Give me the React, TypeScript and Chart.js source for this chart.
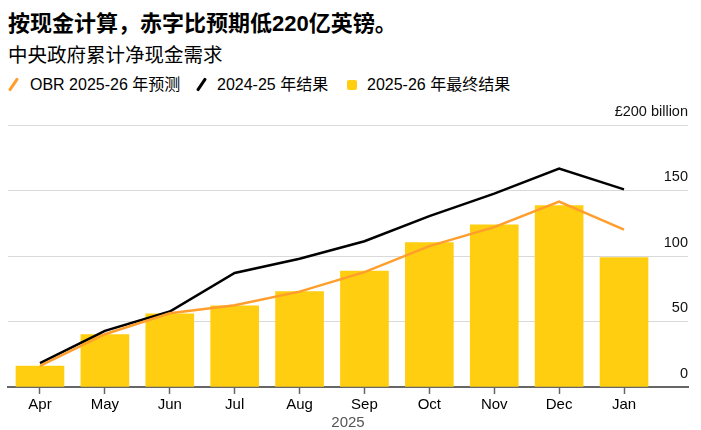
import React, { useEffect, useRef } from 'react';
import { Chart, registerables } from 'chart.js';

Chart.register(...registerables);

const months = ['Apr', 'May', 'Jun', 'Jul', 'Aug', 'Sep', 'Oct', 'Nov', 'Dec', 'Jan'];
const final2526 = [16.0, 40.1, 55.8, 61.9, 72.8, 88.5, 110.3, 123.8, 138.5, 98.7];
const result2425 = [18.3, 42.9, 57.6, 87.0, 97.9, 111.3, 130.4, 147.6, 166.7, 150.9];
const obrForecast = [16.2, 40.3, 56.3, 62.4, 72.8, 87.7, 107.5, 122.0, 141.5, 120.2];
const yTickValues = [0, 50, 100, 150, 200];
const yTopLabel = '£200 billion';
const yearLabel = '2025';

const titleText = '按现金计算，赤字比预期低220亿英镑。';
const subtitleText = '中央政府累计净现金需求';
const legendObr = 'OBR 2025-26 年预测';
const legendPrev = '2024-25 年结果';
const legendFinal = '2025-26 年最终结果';

const BAR = '#FFCE10';
const ORANGE = '#FF9E2C';
const BLACK = '#000000';
const FONT = '"Liberation Sans", Arial, "Noto Sans CJK SC", sans-serif';
const CJK = '"Liberation Sans", "Noto Sans CJK SC", sans-serif';

export default function App() {
  const ref = useRef<HTMLCanvasElement | null>(null);

  useEffect(() => {
    if (!ref.current) return;
    Chart.defaults.font.family = FONT;
    const chart = new Chart(ref.current, {
      type: 'bar',
      data: {
        datasets: [
          {
            type: 'line',
            label: legendObr,
            data: obrForecast.map((v, i) => ({ x: i, y: v })),
            borderColor: ORANGE,
            borderWidth: 2.5,
            pointRadius: 0,
            tension: 0,
            order: 1,
          },
          {
            type: 'line',
            label: legendPrev,
            data: result2425.map((v, i) => ({ x: i, y: v })),
            borderColor: BLACK,
            borderWidth: 2.5,
            pointRadius: 0,
            tension: 0,
            order: 2,
          },
          {
            type: 'bar',
            label: legendFinal,
            data: final2526.map((v, i) => ({ x: i, y: v })),
            backgroundColor: BAR,
            borderWidth: 0,
            barThickness: 48,
            order: 3,
          },
        ] as any,
      },
      options: {
        animation: false,
        responsive: false,
        devicePixelRatio: 1,
        layout: { padding: { left: 8, right: 13, top: 30, bottom: 0 } },
        plugins: {
          legend: { display: false },
          tooltip: { enabled: false },
        },
        scales: {
          x: {
            type: 'linear',
            position: 'bottom',
            offset: false,
            min: -0.493,
            max: 9.986,
            afterBuildTicks: (scale: any) => {
              scale.ticks = months.map((_, i) => ({ value: i }));
            },
            ticks: {
              callback: (v: any) => months[v as number] ?? '',
              color: '#000',
              font: { size: 15, lineHeight: 1 },
              padding: 3,
              maxRotation: 0,
              autoSkip: false,
            },
            grid: {
              offset: false,
              drawOnChartArea: false,
              drawTicks: true,
              tickLength: 7,
              tickColor: '#666',
              tickWidth: 1.5,
            },
            border: { display: true, color: '#666', width: 2 },
            title: {
              display: true,
              text: yearLabel,
              color: '#555',
              font: { size: 15, lineHeight: 1 },
              padding: { top: 0, bottom: 0 },
            },
          },
          y: {
            position: 'right',
            min: 0,
            max: 200,
            afterBuildTicks: (scale: any) => {
              scale.ticks = yTickValues.map((v) => ({ value: v }));
            },
            ticks: {
              mirror: true,
              padding: 0,
              labelOffset: -13.5,
              color: '#111',
              font: { size: 14.5 },
              callback: (v: any) => (v === 200 ? yTopLabel : String(v)),
            },
            grid: {
              color: '#d9d9d9',
              lineWidth: 1,
              drawTicks: false,
            },
            border: { display: false },
          },
        },
      },
    });
    return () => chart.destroy();
  }, []);

  const slash = (color: string, left: number) => (
    <div
      style={{
        position: 'absolute',
        left,
        top: 77,
        width: 3,
        height: 15,
        background: color,
        transform: 'rotate(34deg)',
        borderRadius: 1,
      }}
    />
  );

  const legendText = (text: string, left: number) => (
    <div
      style={{
        position: 'absolute',
        left,
        top: 75,
        fontSize: 16,
        lineHeight: '20px',
        fontFamily: CJK,
        color: '#000',
        whiteSpace: 'nowrap',
      }}
    >
      {text}
    </div>
  );

  return (
    <div
      style={{
        position: 'fixed',
        left: 0,
        top: 0,
        width: 701,
        height: 430,
        background: '#fff',
        overflow: 'hidden',
      }}
    >
      <div
        style={{
          position: 'absolute',
          left: 8,
          top: 11,
          fontSize: 22,
          lineHeight: '26px',
          fontWeight: 700,
          fontFamily: CJK,
          color: '#000',
          whiteSpace: 'nowrap',
        }}
      >
        {titleText}
      </div>
      <div
        style={{
          position: 'absolute',
          left: 8,
          top: 43,
          fontSize: 19.5,
          lineHeight: '24px',
          fontFamily: CJK,
          color: '#000',
          whiteSpace: 'nowrap',
        }}
      >
        {subtitleText}
      </div>
      {slash(ORANGE, 12)}
      {legendText(legendObr, 30)}
      {slash(BLACK, 200)}
      {legendText(legendPrev, 217)}
      <div
        style={{
          position: 'absolute',
          left: 347,
          top: 80,
          width: 10,
          height: 10,
          background: BAR,
          borderRadius: 2,
        }}
      />
      {legendText(legendFinal, 367)}
      <canvas
        ref={ref}
        width={701}
        height={335}
        style={{ position: 'absolute', left: 0, top: 95, width: 701, height: 335 }}
      />
    </div>
  );
}
